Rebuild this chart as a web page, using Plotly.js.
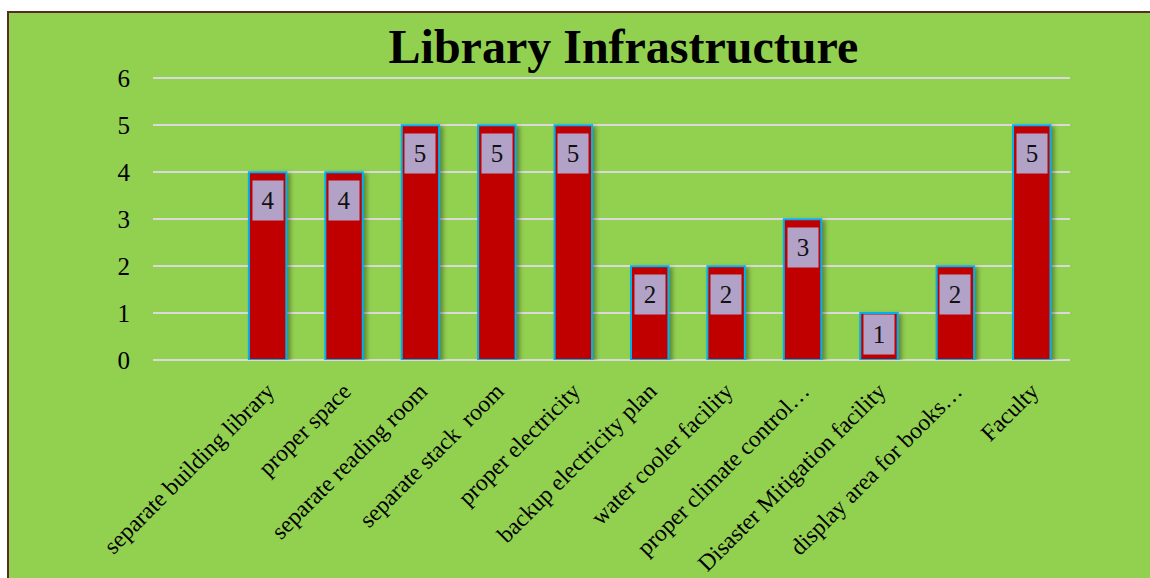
<!DOCTYPE html>
<html>
<head>
<meta charset="utf-8">
<script src="https://cdn.plot.ly/plotly-3.0.1.min.js"></script>
<style>
  html, body { margin: 0; padding: 0; background: #ffffff; width: 1150px; height: 578px; overflow: hidden; }
  #frame { position: absolute; left: 7px; top: 11px; width: 1141px; height: 565px; border-left: 2px solid #5a2a24; border-top: 2px solid #5a2a24; background: #92d050; }
  #chart { width: 1141px; height: 565px; }
  #chart .bars .point path { filter: drop-shadow(3px 2px 2px rgba(0,0,0,0.35)); }
</style>
</head>
<body>
<div id="frame"><div id="chart"></div></div>
<script>
// Data
const categories = [
  " ",
  "separate building library",
  "proper space",
  "separate reading room",
  "separate stack  room",
  "proper electricity",
  "backup electricity plan",
  "water cooler facility",
  "proper climate control…",
  "Disaster Mitigation facility",
  "display area for books…",
  "Faculty"
];
const values = [null, 4, 4, 5, 5, 5, 2, 2, 3, 1, 2, 5];
const yTicks = [0, 1, 2, 3, 4, 5, 6];

const serif = "Liberation Serif, Times New Roman, serif";
const pxPerUnit = 47;

const trace = {
  type: "bar",
  x: categories,
  y: values,
  marker: { color: "#c00000", line: { color: "#00b0f0", width: 2 } },
  hoverinfo: "none",
  cliponaxis: false
};

const annotations = [];
categories.forEach((c, i) => {
  if (values[i] === null || values[i] === undefined) return;
  const roomy = values[i] * pxPerUnit >= 39 + 16;
  annotations.push({
    x: c, y: values[i], xref: "x", yref: "y",
    text: String(values[i]),
    showarrow: false,
    yanchor: "top", xanchor: "center",
    yshift: roomy ? -8 : -1,
    bgcolor: "#b3a2c7",
    borderpad: 0,
    width: 30, height: 39,
    font: { family: serif, size: 25, color: "#111111" }
  });
});

const layout = {
  width: 1141, height: 565,
  margin: { l: 144, r: 80, t: 63.6, b: 218, pad: 0 },
  paper_bgcolor: "#92d050",
  plot_bgcolor: "#92d050",
  showlegend: false,
  bargap: 0.51,
  title: {
    text: "<b>Library Infrastructure</b>",
    font: { family: serif, size: 48, color: "#000000" },
    x: 0.513, xref: "paper", xanchor: "center",
    y: 0.941, yref: "container", yanchor: "middle"
  },
  xaxis: {
    type: "category",
    categoryorder: "array",
    categoryarray: categories,
    range: [-0.5, categories.length - 0.5],
    tickangle: -45,
    tickfont: { family: serif, size: 23.5, color: "#000000" },
    showgrid: false, zeroline: false, showline: false,
    ticks: "outside", ticklen: 7, tickcolor: "rgba(0,0,0,0)"
  },
  yaxis: {
    range: [0, 6.03],
    tickvals: yTicks,
    ticktext: yTicks.map(String),
    tickfont: { family: serif, size: 25, color: "#000000" },
    showgrid: true, gridcolor: "#d9d9d9", gridwidth: 2,
    zeroline: true, zerolinecolor: "#d9d9d9", zerolinewidth: 2,
    showline: false,
    ticks: "outside", ticklen: 17, tickcolor: "rgba(0,0,0,0)"
  },
  annotations: annotations
};

Plotly.newPlot("chart", [trace], layout, { displayModeBar: false, staticPlot: true });
</script>
</body>
</html>
